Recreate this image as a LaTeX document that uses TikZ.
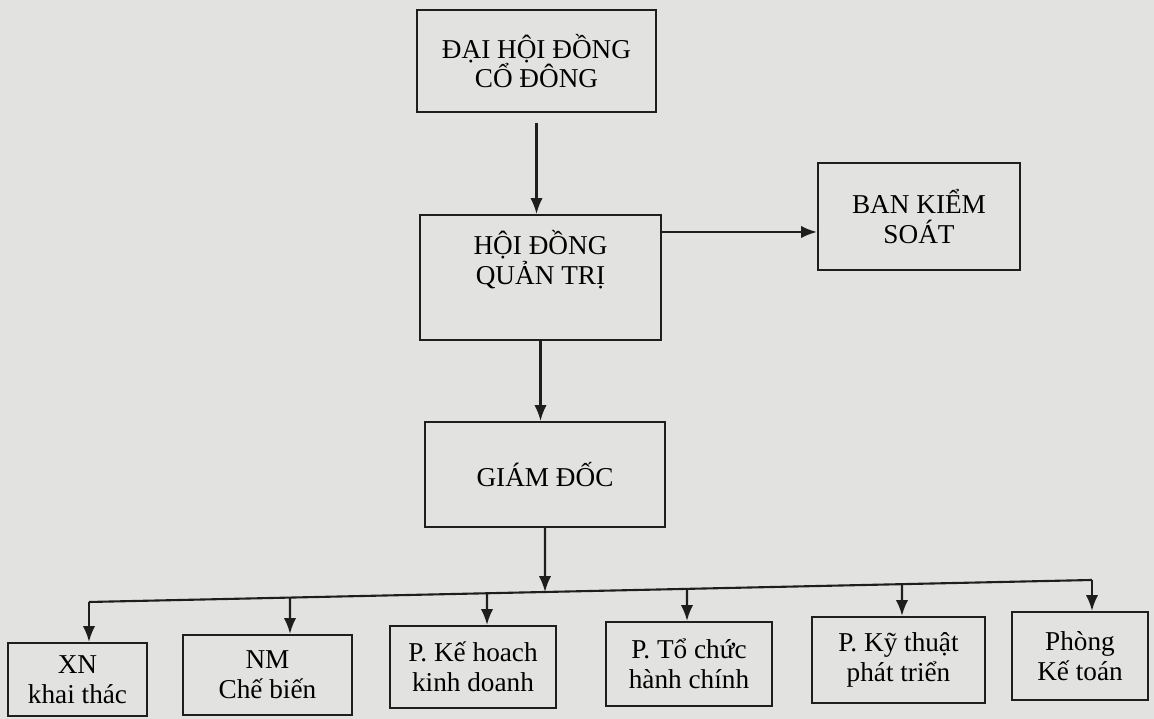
\documentclass[tikz,border=0pt]{standalone}
\usepackage{fontspec}
\setmainfont{Liberation Serif}
\usetikzlibrary{calc,arrows.meta}
\definecolor{scanbg}{RGB}{226,226,224}
\definecolor{ink}{RGB}{30,30,30}
\tikzset{
	box/.style={draw=ink,line width=1.2pt,align=center,inner sep=0pt,font=\fontsize{15.5}{17}\selectfont},
	arr/.style={draw=ink,line width=1.2pt,-{Latex[length=9pt,width=7pt]}}
}

\begin{document}
\begin{tikzpicture}
			\fill[scanbg] (0,0) rectangle (23.08,14.38);
			\useasboundingbox (0,0) rectangle (23.08,14.38);
			\node[box,minimum width=4.78cm,minimum height=2.04cm] (dhd) at (10.73,13.16) {ĐẠI HỘI ĐỒNG\\CỔ ĐÔNG};
			\node[box,minimum width=4.82cm,minimum height=2.5cm,text depth=0.8cm] (hdqt) at (10.81,8.83) {HỘI ĐỒNG\\QUẢN TRỊ};
			\node[box,minimum width=4.04cm,minimum height=2.14cm] (bks) at (18.38,10.05) {BAN KIỂM\\SOÁT};
			\node[box,minimum width=4.8cm,minimum height=2.1cm] (gd) at (10.9,4.89) {GIÁM ĐỐC};
			\draw[arr] ([yshift=-0.2cm]dhd.south) -- (dhd.south |- hdqt.north);
			\draw[arr] ([yshift=-0.31cm]bks.west -| hdqt.east) -- ([yshift=-0.31cm]bks.west);
			\draw[arr] (hdqt.south) -- (hdqt.south |- gd.north);
			\coordinate (barl) at (1.78,2.34);
			\coordinate (barr) at (21.84,2.78);
			\coordinate (gdbar) at ($(barl)!{(10.9-1.78)/20.06}!(barr)$);
			\draw[ink,line width=1.2pt] (barl) -- (barr);
			\draw[arr] (gd.south) -- (gdbar);
			\foreach \nm/\cx/\cy/\w/\h/\ax/\txt in {
				xn/1.55/0.79/2.78/1.46/1.78/{XN\\khai thác},
				nm/5.35/0.88/3.38/1.6/5.8/{NM\\Chế biến},
				khkd/9.46/1.04/3.32/1.64/9.74/{P. Kế hoach\\kinh doanh},
				tchc/13.78/1.1/3.32/1.68/13.74/{P. Tổ chức\\hành chính},
				ktpt/17.97/1.18/3.46/1.72/18.04/{P. Kỹ thuật\\phát triển},
				pkt/21.6/1.26/2.72/1.76/21.84/{Phòng\\Kế toán}}{
				\node[box,minimum width=\w cm,minimum height=\h cm] (\nm) at (\cx,\cy) {\txt};
				\draw[arr] ($(barl)!{(\ax-1.78)/20.06}!(barr)$) -- (\ax,0 |- \nm.north);
			}
		\end{tikzpicture}
\end{document}
